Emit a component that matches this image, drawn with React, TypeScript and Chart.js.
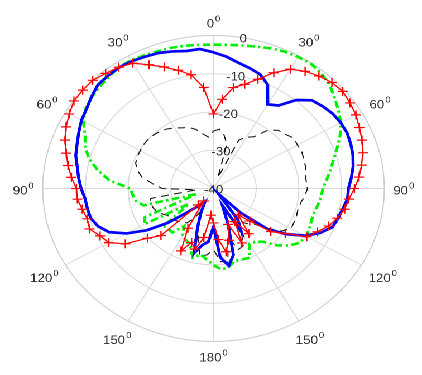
import React, { useEffect, useRef } from 'react';
import { Chart, registerables } from 'chart.js';

Chart.register(...registerables);

// Angle categories (degrees, clockwise from top), 5 degree steps
const angles = [
  0, 5, 10, 15, 20, 25, 30, 35, 40, 45, 50, 55,
  60, 65, 70, 75, 80, 85, 90, 95, 100, 105, 110, 115,
  120, 125, 130, 135, 140, 145, 150, 155, 160, 165, 170, 175,
  180, 185, 190, 195, 200, 205, 210, 215, 220, 225, 230, 235,
  240, 245, 250, 255, 260, 265, 270, 275, 280, 285, 290, 295,
  300, 305, 310, 315, 320, 325, 330, 335, 340, 345, 350, 355,
];

// Theta tick labels (every 30 degrees, symmetric 0..180)
const thetaTickAngles = [0, 30, 60, 90, 120, 150, 180, 210, 240, 270, 300, 330];
const thetaTickLabels = ['0', '30', '60', '90', '120', '150', '180', '150', '120', '90', '60', '30'];

// Radial tick labels (dB)
const radialTicks = [0, -10, -20, -30, -40];

// Series (dB)
const redSeries = [
  -20.5, -16.6, -13.2, -11.8, -9.6, -6.6, -4.0, -2.6, -1.6, -0.8, -0.5, -1.0,
  -1.5, -2.3, -3.0, -3.8, -4.8, -5.8, -7.0, -8.2, -8.8, -10.0, -11.3, -13.2,
  -14.8, -19.5, -22.5, -28.0, -31.0, -25.6, -30.0, -24.3, -30.0, -26.0, -23.2, -26.6,
  -31.0, -33.0, -27.0, -23.6, -25.0, -22.0, -28.0, -36.0, -34.4, -22.6, -19.8, -14.8,
  -11.7, -10.7, -9.1, -9.4, -8.8, -8.0, -7.9, -6.6, -5.4, -4.3, -3.0, -1.9,
  -1.0, -0.1, 0.0, 0.0, -0.7, -1.3, -2.2, -4.3, -6.2, -8.0, -9.8, -13.5,
];

const blueSeries = [
  -4.4, -5.4, -6.6, -7.4, -8.2, -10.0, -14.6, -13.5, -9.8, -7.4, -6.6, -5.9,
  -5.6, -5.5, -5.8, -6.2, -6.8, -7.6, -8.4, -8.5, -9.3, -9.8, -10.4, -12.5,
  -15.3, -19.2, -23.5, -31.0, -38.0, -30.0, -27.0, -35.0, -30.0, -22.0, -19.5, -22.0,
  -30.0, -26.0, -25.0, -22.5, -29.0, -33.0, -36.0, -35.0, -33.5, -31.0, -26.0, -21.0,
  -16.5, -13.0, -11.2, -10.2, -10.0, -9.8, -9.0, -8.3, -7.6, -6.6, -6.0, -5.2,
  -4.3, -3.7, -2.7, -1.7, -1.5, -1.4, -1.6, -2.0, -2.3, -2.9, -3.5, -3.4,
];

const greenSeries = [
  -2.4, -2.3, -2.0, -1.6, -1.0, -0.5, -0.3, -0.2, -0.7, -1.6, -3.0, -4.3,
  -5.6, -7.3, -9.2, -10.9, -12.2, -13.4, -14.4, -14.7, -15.2, -15.6, -15.6, -15.2,
  -15.0, -15.3, -16.8, -19.0, -21.8, -23.0, -23.3, -20.0, -20.3, -20.5, -19.2, -18.7,
  -20.0, -21.4, -22.5, -21.3, -23.9, -25.0, -25.4, -28.0, -25.0, -25.0, -24.8, -33.0,
  -21.3, -22.3, -36.0, -23.0, -21.5, -21.0, -20.5, -15.5, -12.5, -9.8, -8.0, -6.8,
  -4.8, -3.5, -2.8, -2.3, -1.9, -1.3, -1.3, -1.6, -1.8, -1.9, -2.1, -2.3,
];

const blackSeries = [
  -25.0, -24.4, -25.8, -28.0, -37.0, -26.0, -24.5, -23.5, -20.0, -18.5, -18.0, -17.0,
  -17.3, -17.2, -17.5, -17.7, -18.2, -18.2, -18.0, -18.5, -19.2, -19.5, -19.3, -19.2,
  -19.0, -20.6, -24.0, -27.0, -28.0, -30.0, -27.0, -23.5, -23.0, -27.0, -20.5, -20.8,
  -24.0, -22.6, -22.0, -26.0, -30.0, -34.0, -31.0, -29.0, -28.8, -28.0, -27.5, -27.4,
  -26.5, -25.5, -25.0, -24.8, -25.0, -36.0, -28.0, -25.7, -23.0, -21.5, -20.6, -20.3,
  -20.2, -20.0, -20.0, -20.2, -20.5, -21.0, -21.7, -22.5, -23.0, -24.0, -25.5, -26.5,
];

// Layout (unstretched canvas coordinates; the canvas is stretched horizontally)
const W0 = 378;
const H0 = 375;
const STRETCH = 422 / W0;
const CX = 191.25;
const CY = 188.5;
const R = 153;
const FONT = '"Liberation Sans", Arial, Helvetica, sans-serif';
const TEXT_COLOR = '#2e2e2e';

const polarDecor = {
  id: 'polarDecor',
  afterLayout(chart: any) {
    const s = chart.scales.r;
    s.xCenter = CX;
    s.yCenter = CY;
    s.drawingArea = R;
  },
  beforeDatasetsDraw(chart: any) {
    const s = chart.scales.r;
    const ctx = chart.ctx;
    ctx.save();
    ctx.fillStyle = TEXT_COLOR;
    ctx.font = `12px ${FONT}`;
    ctx.textAlign = 'center';
    ctx.textBaseline = 'middle';
    const idx = angles.indexOf(10);
    radialTicks.forEach((v) => {
      const p = s.getPointPositionForValue(idx, v);
      ctx.fillText(String(v), p.x, p.y + 1.5);
    });
    ctx.restore();
  },
  afterDraw(chart: any) {
    const s = chart.scales.r;
    const ctx = chart.ctx;
    ctx.save();
    ctx.fillStyle = TEXT_COLOR;
    ctx.textAlign = 'left';
    ctx.textBaseline = 'alphabetic';
    thetaTickAngles.forEach((a, j) => {
      const i = angles.indexOf(a);
      const main = thetaTickLabels[j];
      ctx.font = `12px ${FONT}`;
      const wMain = ctx.measureText(main).width;
      ctx.font = `8.5px ${FONT}`;
      const wSup = ctx.measureText('0').width;
      const w = wMain + 0.8 + wSup;
      const h = 12;
      const rad = (a * Math.PI) / 180;
      const sx = Math.sin(rad);
      const sy = -Math.cos(rad);
      const p = s.getPointPosition(i, R + 8);
      const ext = (w / 2) * Math.abs(sx) + (h / 2) * Math.abs(sy);
      const cx = p.x + sx * ext;
      const cy = p.y + sy * ext;
      const x0 = cx - w / 2;
      const base = cy + 6;
      ctx.font = `12px ${FONT}`;
      ctx.fillText(main, x0, base);
      ctx.font = `8.5px ${FONT}`;
      ctx.fillText('0', x0 + wMain + 0.8, base - 6);
    });
    ctx.restore();
  },
};

export default function App() {
  const ref = useRef<HTMLCanvasElement>(null);

  useEffect(() => {
    const chart = new Chart(ref.current as HTMLCanvasElement, {
      type: 'radar',
      data: {
        labels: angles.map((a) => String(a)),
        datasets: [
          {
            label: 'red',
            data: redSeries,
            borderColor: '#ff0000',
            backgroundColor: '#ff0000',
            borderWidth: 1.2,
            pointStyle: 'cross',
            pointRadius: 4.5,
            pointBorderColor: '#ff0000',
            pointBorderWidth: 1.2,
            fill: false,
            clip: false,
            order: 0,
          } as any,
          {
            label: 'blue',
            data: blueSeries,
            borderColor: '#0000ff',
            borderWidth: 2.7,
            pointRadius: 0,
            fill: false,
            clip: false,
            order: 1,
          } as any,
          {
            label: 'green',
            data: greenSeries,
            borderColor: '#00f000',
            borderWidth: 2.6,
            borderDash: [7, 3, 2, 3],
            pointRadius: 0,
            fill: false,
            clip: false,
            order: 2,
          } as any,
          {
            label: 'black',
            data: blackSeries,
            borderColor: '#111111',
            borderWidth: 1,
            borderDash: [7, 5],
            pointRadius: 0,
            fill: false,
            clip: false,
            order: 3,
          } as any,
        ],
      },
      options: {
        responsive: false,
        animation: false,
        devicePixelRatio: 2,
        layout: { padding: 0 },
        elements: { line: { tension: 0 } },
        plugins: {
          legend: { display: false },
          tooltip: { enabled: false },
        },
        scales: {
          r: {
            min: -40,
            max: 0,
            beginAtZero: false,
            ticks: { display: false, stepSize: 10 },
            pointLabels: { display: false },
            grid: {
              circular: true,
              color: (c: any) => (c.index === 4 ? '#cccccc' : '#dadada'),
              lineWidth: 1,
            },
            angleLines: {
              color: '#dadada',
              lineWidth: (c: any) => (c.index % 6 === 0 ? 1 : 0),
            },
          },
        },
      } as any,
      plugins: [polarDecor],
    });
    return () => chart.destroy();
  }, []);

  return (
    <div
      style={{
        position: 'fixed',
        left: 0,
        top: 0,
        width: W0,
        height: H0,
        transform: `scaleX(${STRETCH})`,
        transformOrigin: '0 0',
        background: '#ffffff',
      }}
    >
      <canvas ref={ref} width={W0} height={H0} style={{ display: 'block' }} />
    </div>
  );
}
